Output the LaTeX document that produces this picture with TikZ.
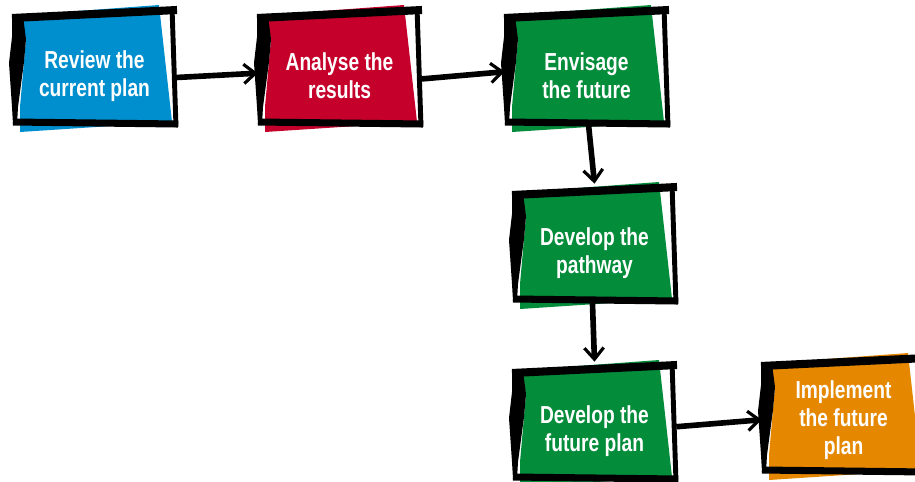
\documentclass[tikz,border=0pt]{standalone}
\usepackage{fontspec}
\newfontfamily\cardfont{Liberation Sans}[FakeStretch=0.78]
\usepackage{tikz}
\usetikzlibrary{arrows.meta}
\definecolor{cardblue}{RGB}{0,143,206}
\definecolor{cardred}{RGB}{197,0,43}
\definecolor{cardgreen}{RGB}{3,140,58}
\definecolor{cardorange}{RGB}{230,135,0}
\def\cardw{163}
\def\cardh{118}
\begin{document}
\begin{tikzpicture}[x=0.02cm,y=-0.02cm]
	\tikzstyle{card}=[rectangle,minimum width=3.26cm,minimum height=2.36cm,inner sep=0pt]
	\tikzstyle{card text}=[text=white,align=center,font=\cardfont\bfseries\fontsize{14}{16}\selectfont]
	\tikzstyle{top band}=[line width=4.6pt]
	\tikzstyle{side band}=[line width=2.8pt]
	\tikzstyle{bottom band}=[line width=4pt]
	\tikzstyle{link}=[line width=3.2pt,-{Straight Barb[length=6.5pt,width=11pt,line width=1.8pt]}]
	
	\useasboundingbox (0,0) rectangle (915,481);
	\clip (0,0) rectangle (915,481);
	
	% Draw the cards
	\foreach \name/\x/\y/\col/\dy/\txt in {
		review/13/7/cardblue/10/{Review the\\current plan},
		analyse/258/7/cardred/10/{Analyse the\\results},
		envisage/505/7/cardgreen/10/{Envisage\\the future},
		pathway/513/184/cardgreen/10/{Develop the\\pathway},
		futureplan/513/362/cardgreen/10/{Develop the\\future plan},
		implement/762/355/cardorange/6/{Implement\\the future\\plan}}
	{
	\begin{scope}[shift={(\x,\y)}]
		\fill[\col] (10,8) -- (146,-2) -- (159,115) -- (7,125) -- (7,100) -- (13,32) -- (9,14) -- cycle;
		\fill[black] (-1,9) -- (10,9) -- (13,32) -- (11,55) -- (5,100) -- (4,117) -- (0,117) -- (-1,100) -- (-4,56) -- (-1,30) -- cycle;
		\draw[top band] (-1,11) -- (\cardw+1,3);
		\draw[side band] (\cardw-4,0) -- (\cardw,120);
		\draw[bottom band] (0,115) -- (\cardw+2,117);
		\node[card] (\name) at (81.5,59) {};
		\node[card text] at (81.5,{59+\dy}) {\txt};
	\end{scope}
	}
	
	% Connect the cards
	\draw[link] (review.-8) -- (analyse.185);
	\draw[link] (analyse.-9) -- (envisage.184);
	\draw[link] (envisage.-88) -- (pathway.north);
	\draw[link] (pathway.-92) -- (futureplan.north);
	\draw[link] (futureplan.-4) -- (implement.184);
	
\end{tikzpicture}
\end{document}
